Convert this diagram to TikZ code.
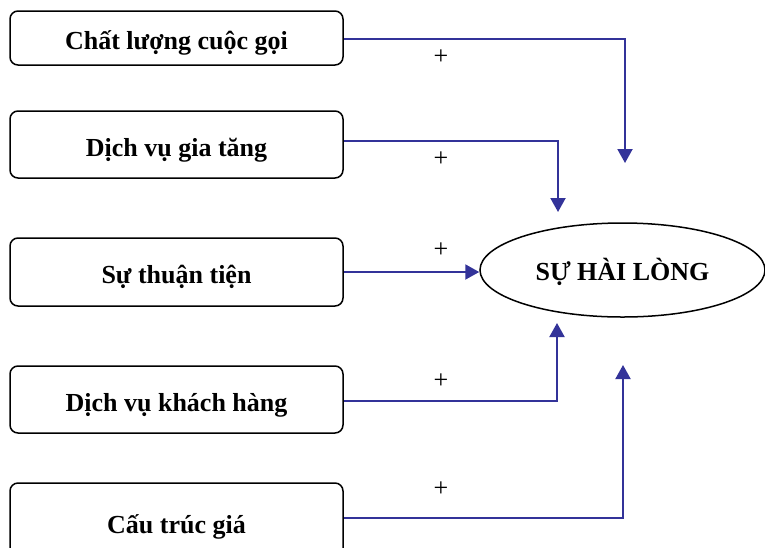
\documentclass[tikz,border=0pt]{standalone}
\usepackage{fontspec}
\setmainfont{Liberation Serif}
\usetikzlibrary{arrows.meta,shapes.geometric}
\definecolor{linkblue}{RGB}{51,51,153}
\tikzset{
  factor/.style={draw=black, line width=1.5pt, rounded corners=8pt,
    minimum width=333pt, inner sep=0pt, text height=25pt, text depth=2pt,
    font=\fontsize{26}{30}\selectfont\bfseries},
  outcome/.style={draw=black, line width=1.5pt, ellipse, minimum width=285pt,
    minimum height=94pt, inner sep=0pt, text height=23pt, text depth=2pt,
    font=\fontsize{26}{30}\selectfont\bfseries},
  link/.style={draw=linkblue, line width=2pt, -{Triangle[width=15pt,length=14pt]}},
  sign/.style={inner sep=0pt, font=\fontsize{26}{30}\selectfont}
}
\begin{document}
\begin{tikzpicture}[x=1pt,y=-1pt]
\useasboundingbox (0,0) rectangle (765,547);
\clip (0,0) rectangle (765,547);

% factor boxes
\node[factor, minimum height=54pt] (b1) at (176.5,38) {Chất lượng cuộc gọi};
\node[factor, minimum height=67pt] (b2) at (176.5,144.5) {Dịch vụ gia tăng};
\node[factor, minimum height=68pt] (b3) at (176.5,272) {Sự thuận tiện};
\node[factor, minimum height=67pt] (b4) at (176.5,399.5) {Dịch vụ khách hàng};
\node[factor, minimum height=78pt] (b5) at (176.5,522) {Cấu trúc giá};

% outcome
\node[outcome] (sat) at (622.5,270) {SỰ HÀI LÒNG};

% arrow ends
\coordinate (t1) at (625,163);
\coordinate (t2) at (558,212);
\coordinate (t4) at (557,323);
\coordinate (t5) at (623,365);

% connectors
\draw[link] ([yshift=-1pt]b1.east) -| (t1);
\draw[link] ([yshift=3.5pt]b2.east) -| (t2);
\draw[link] (b3.east) -- (sat.west |- b3.east);
\draw[link] ([yshift=-1.5pt]b4.east) -| (t4);
\draw[link] ([yshift=4pt]b5.east) -| (t5);

% signs
\node[sign] (s1) at (441,57) {+};
\node[sign] (s2) at (441,159) {+};
\node[sign] (s3) at (441,250) {+};
\node[sign] (s4) at (441,381) {+};
\node[sign] (s5) at (441,489) {+};
\end{tikzpicture}
\end{document}
